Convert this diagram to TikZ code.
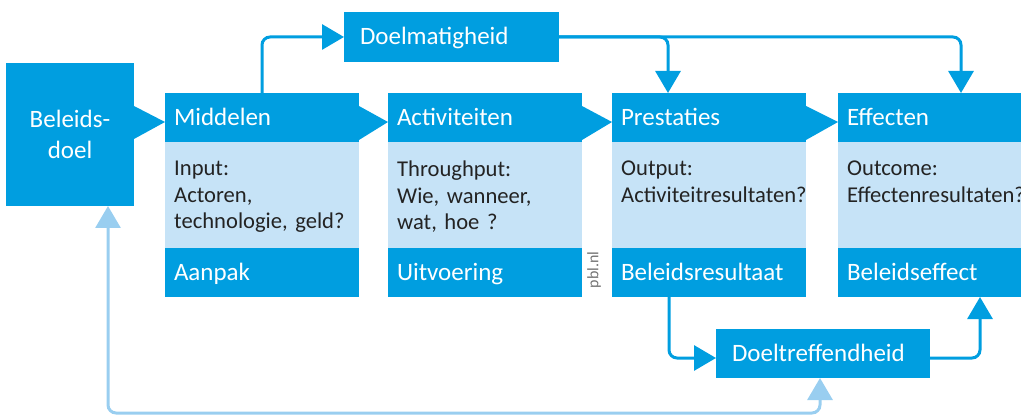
\documentclass[tikz,border=0pt]{standalone}
\usepackage{fontspec}
\setmainfont{Carlito}
\usetikzlibrary{arrows.meta}
\definecolor{pblue}{RGB}{0,158,224}
\definecolor{plight}{RGB}{198,227,247}
\definecolor{pfeed}{RGB}{153,206,240}
\definecolor{ptext}{RGB}{35,35,35}
\frenchspacing
\begin{document}
\begin{tikzpicture}[x=1pt,y=-1pt,
  blk/.style={fill=pblue, text=white, inner sep=0pt, outer sep=0pt,
    font=\fontsize{25}{31}\selectfont},
  head/.style={blk, minimum width=194pt, minimum height=49pt, anchor=north west,
    text width=176pt, align=left, text height=16pt, text depth=0pt},
  bodybox/.style={fill=plight, inner sep=0pt, outer sep=0pt, minimum width=194pt,
    minimum height=106pt, anchor=north west},
  bodytext/.style={inner sep=0pt, anchor=north west, text width=190pt, align=left,
    text=ptext, font=\frenchspacing\fontsize{22.6}{26.5}\selectfont},
  conn/.style={draw=pblue, line width=3pt, rounded corners=8pt},
  tip/.style={-{Triangle[length=22pt,width=25pt]}},
  feed/.style={draw=pfeed, line width=3pt, rounded corners=8pt},
  wedge/.style={fill=pblue}
]
\useasboundingbox (0,0) rectangle (1021,417);

% Beleidsdoel
\node[blk, anchor=north west, minimum width=128pt, minimum height=143pt, align=center]
  (bd) at (6,63) {Beleids-\\doel};

% stage boxes
\node[head] (m1) at (165,93) {Middelen};
\node[bodybox] (m2) at (165,142) {};
\node[bodytext] (m2t) at ([xshift=9pt,yshift=-19pt]m2.north west) {Input:\\Actoren,\\technologie,\ geld?};
\node[head] (m3) at (165,248) {Aanpak};

\node[head] (a1) at (388,93) {Activiteiten};
\node[bodybox] (a2) at (388,142) {};
\node[bodytext] (a2t) at ([xshift=9pt,yshift=-19pt]a2.north west) {Throughput:\\Wie,\ wanneer,\\wat,\ hoe ?};
\node[head] (a3) at (388,248) {Uitvoering};

\node[head] (p1) at (612,93) {Prestaties};
\node[bodybox] (p2) at (612,142) {};
\node[bodytext] (p2t) at ([xshift=9pt,yshift=-19pt]p2.north west) {Output:\\Activiteitresultaten?};
\node[head] (p3) at (612,248) {Beleidsresultaat};

\node[head] (e1) at (838,93) {Effecten};
\node[bodybox] (e2) at (838,142) {};
\node[bodytext] (e2t) at ([xshift=9pt,yshift=-19pt]e2.north west) {Outcome:\\Effectenresultaten?};
\node[head] (e3) at (838,248) {Beleidseffect};

% wedges between boxes
\fill[wedge] ([yshift=28.5pt]bd.east) -- ([yshift=-4.5pt]m1.west) -- ([yshift=-4.5pt]bd.east) -- cycle;
\fill[wedge] ([yshift=11.5pt]m1.east) -- ([yshift=-4.5pt]a1.west) -- ([yshift=-22.5pt]m1.east) -- cycle;
\fill[wedge] ([yshift=11.5pt]a1.east) -- ([yshift=-4.5pt]p1.west) -- ([yshift=-22.5pt]a1.east) -- cycle;
\fill[wedge] ([yshift=11.5pt]p1.east) -- ([yshift=-4.5pt]e1.west) -- ([yshift=-22.5pt]p1.east) -- cycle;

% Doelmatigheid
\node[blk, anchor=north west, minimum width=215pt, minimum height=50pt, text width=183pt,
  align=left, text height=16pt, text depth=0pt] (dm) at (344,12) {Doelmatigheid};

% Doeltreffendheid
\node[blk, anchor=north west, minimum width=214pt, minimum height=49pt, text width=182pt,
  align=left, text height=16pt, text depth=0pt] (dt) at (716,329) {Doeltreffendheid};

% pbl.nl
\node[rotate=90, inner sep=0pt, text=black!55, font=\fontsize{16}{18}\selectfont] (pbl) at (594,270) {pbl.nl};

% connectors
\coordinate (pin) at ([xshift=56pt]p1.north west);
\coordinate (ein) at ([xshift=123pt]e1.north west);
\coordinate (pout) at ([xshift=57pt]p3.south west);
\coordinate (eup) at ([xshift=142pt]e3.south west);
\coordinate (dtin) at ([yshift=-4.5pt]dt.west);
\coordinate (dtout) at ([yshift=-4.5pt]dt.east);
\coordinate (bdin) at ([xshift=38pt]bd.south);
\coordinate (dtbot) at ([xshift=-3pt]dt.south);
\coordinate (fb) at (0,413);

\draw[conn, tip] (m1.north) |- (dm.west);
\draw[conn, tip] (dm.east) -| (pin);
\draw[conn, tip] (dm.east) -| (ein);
\draw[conn, tip] (pout) |- (dtin);
\draw[conn, tip] (dtout) -| (eup);
\draw[feed, {Triangle[length=22pt,width=25pt]}-{Triangle[length=22pt,width=25pt]}]
  (bdin) -- (bdin |- fb) -| (dtbot);
\end{tikzpicture}
\end{document}
